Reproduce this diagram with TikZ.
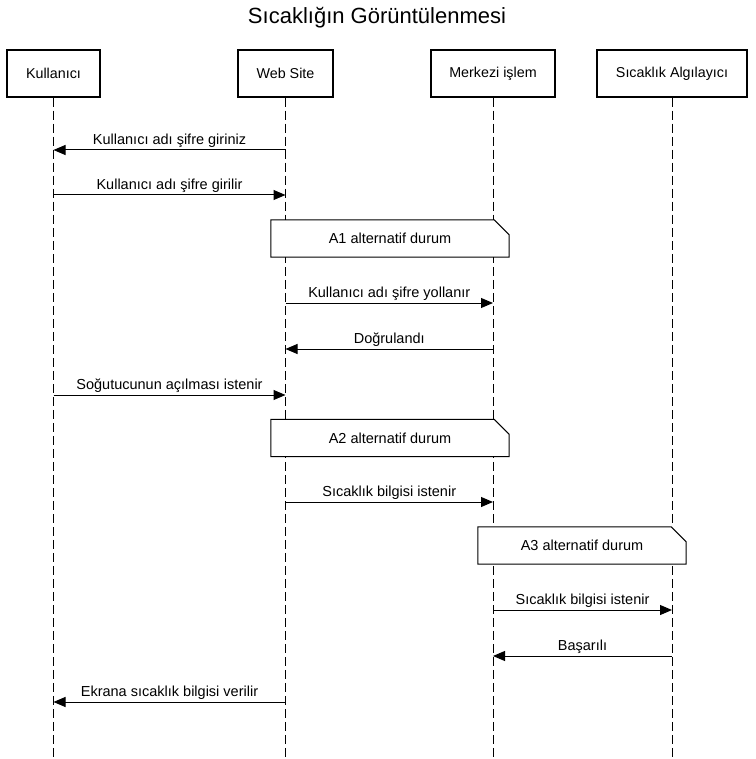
\documentclass[tikz,border=0pt]{standalone}
\usepackage{fontspec}
\setmainfont{Liberation Sans}
\usetikzlibrary{arrows.meta}
\begin{document}
\begin{tikzpicture}[x = 1pt, y = -1pt,
		actor/.style = {draw, line width = 1.5pt, minimum height = 47pt, inner sep = 0pt, font = \fontsize{14.3}{16}\selectfont},
		life/.style = {line width = 1pt, dash pattern = on 9pt off 4pt},
		msg/.style = {line width = 1pt, -{Triangle[length = 12pt, width = 10pt]}},
		lbl/.style = {midway, above, inner sep = 2pt, font = \fontsize{14.5}{16}\selectfont},
		notebox/.style = {fill = white, minimum height = 37pt, inner sep = 0pt, font = \fontsize{14.5}{16}\selectfont}]
	\useasboundingbox (0,0) rectangle (755,759);
	\node[font = \fontsize{22}{24}\selectfont] (title) at (377,18) {Sıcaklığın Görüntülenmesi};
	\node[actor, minimum width = 93pt] (kul) at (53.5,73.5) {Kullanıcı};
	\node[actor, minimum width = 95pt] (web) at (285.5,73.5) {Web Site};
	\node[actor, minimum width = 124pt] (mer) at (493,73.5) {Merkezi işlem};
	\node[actor, minimum width = 150pt] (sen) at (672,73.5) {Sıcaklık Algılayıcı};
	\coordinate (bot) at (0,759);
	\foreach \a in {kul,web,mer,sen}
		\draw[life] (\a.south) -- (\a.south |- bot); %lifelines
	% message rows
	\coordinate (r1) at (0,150);
	\coordinate (r2) at (0,195);
	\coordinate (r3) at (0,303);
	\coordinate (r4) at (0,349);
	\coordinate (r5) at (0,395);
	\coordinate (r6) at (0,502);
	\coordinate (r7) at (0,610);
	\coordinate (r8) at (0,656);
	\coordinate (r9) at (0,702);
	\draw[msg] (web |- r1) -- (kul |- r1) node[lbl] {Kullanıcı adı şifre giriniz};
	\draw[msg] (kul |- r2) -- (web |- r2) node[lbl] {Kullanıcı adı şifre girilir};
	\draw[msg] (web |- r3) -- (mer |- r3) node[lbl] {Kullanıcı adı şifre yollanır};
	\draw[msg] (mer |- r4) -- (web |- r4) node[lbl] {Doğrulandı};
	\draw[msg] (kul |- r5) -- (web |- r5) node[lbl] {Soğutucunun açılması istenir};
	\draw[msg] (web |- r6) -- (mer |- r6) node[lbl] {Sıcaklık bilgisi istenir};
	\draw[msg] (mer |- r7) -- (sen |- r7) node[lbl] {Sıcaklık bilgisi istenir};
	\draw[msg] (sen |- r8) -- (mer |- r8) node[lbl] {Başarılı};
	\draw[msg] (web |- r9) -- (kul |- r9) node[lbl] {Ekrana sıcaklık bilgisi verilir};
	% notes
	\node[notebox, minimum width = 238pt] (a1) at (390,238.5) {A1 alternatif durum};
	\node[notebox, minimum width = 238pt] (a2) at (390,438) {A2 alternatif durum};
	\node[notebox, minimum width = 208pt] (a3) at (582,545.5) {A3 alternatif durum};
	\foreach \n in {a1,a2,a3}
		\draw[line width = 1pt] (\n.north west) -- ([xshift = -15pt]\n.north east) -- ([yshift = -15pt]\n.north east) -- (\n.south east) -- (\n.south west) -- cycle;
\end{tikzpicture}
\end{document}
